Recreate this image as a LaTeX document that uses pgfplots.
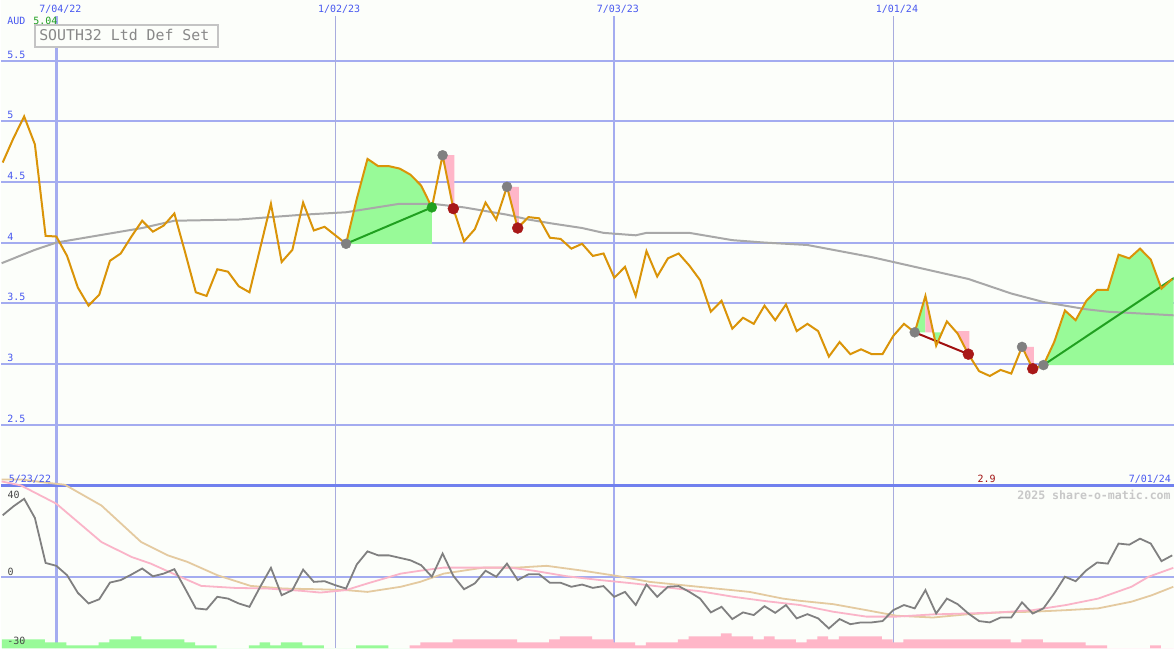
\documentclass[border=0pt]{standalone}
\usepackage{fontspec}
\setmainfont{DejaVu Sans}
\newfontfamily\pixfont{DejaVu Sans Mono}
\usepackage{pgfplots}
\pgfplotsset{compat=1.18}

% palette
\definecolor{bgc}{RGB}{252,254,250}
\definecolor{gridc}{RGB}{164,172,240}
\definecolor{gridthin}{RGB}{168,172,222}
\definecolor{divc}{RGB}{112,128,238}
\definecolor{txtblue}{RGB}{72,88,240}
\definecolor{pricec}{RGB}{218,148,8}
\definecolor{magrey}{RGB}{168,168,168}
\definecolor{oscgrey}{RGB}{128,128,128}
\definecolor{sigpink}{RGB}{250,180,200}
\definecolor{sigtan}{RGB}{228,202,160}
\definecolor{fillgreen}{RGB}{152,250,152}
\definecolor{fillpink}{RGB}{255,182,200}
\definecolor{mkgrey}{RGB}{128,128,128}
\definecolor{mkred}{RGB}{168,24,24}
\definecolor{mkgreen}{RGB}{32,160,32}
\definecolor{trred}{RGB}{160,16,16}
\definecolor{boxc}{RGB}{196,196,196}
\definecolor{boxtxt}{RGB}{136,136,136}
\definecolor{labdark}{RGB}{72,72,72}
\definecolor{wmark}{RGB}{200,200,200}

\pgfplotsset{
  panel/.style={at={(0,0)}, anchor=south west, width=1175pt, height=650pt,
    scale only axis, hide axis, xmin=-0.1116, xmax=109.12, clip=true},
}

\begin{document}
\begin{tikzpicture}
% background and grid
\begin{scope}[x=1pt,y=1pt]
\fill[bgc] (0,0) rectangle (1175,650);
\foreach \yy in {589.2,528.4,467.6,406.8,346.0,285.2,224.4}
  \draw[gridc,line width=2pt] (0,\yy) -- (1175,\yy);
\draw[gridc,line width=2pt] (0,72) -- (1175,72);
\draw[gridc,line width=2.5pt] (55,0) -- (55,634);
\draw[gridc,line width=2.5pt] (614.3,0) -- (614.3,634);
\draw[gridthin,line width=1.2pt] (334.7,0) -- (334.7,634);
\draw[gridthin,line width=1.2pt] (894,0) -- (894,634);
\draw[divc,line width=3pt] (0,163.3) -- (1175,163.3);
\end{scope}

% weekly histogram (levels of 3 units)
\begin{axis}[panel, ymin=0, ymax=216.667]
\addplot[const plot, fill=fillgreen, draw=none, xshift=-0.7pt] coordinates {
 (0,3)(1,3)(2,3)(3,3)(4,2)(5,2)(6,1)(7,1)(8,1)(9,2)(10,3)(11,3)(12,4)(13,3)
 (14,3)(15,3)(16,3)(17,2)(18,1)(19,1)(20,0)(21,0)(22,0)(23,1)(24,2)(25,1)
 (26,2)(27,2)(28,1)(29,1)(30,0)(31,0)(32,0)(33,1)(34,1)(35,1)(36,0)(37,0)(38,0)
} \closedcycle;
\addplot[const plot, fill=fillpink, draw=none, xshift=-0.7pt] coordinates {
 (38,1)(39,2)(40,2)(41,2)(42,3)(43,3)(44,3)(45,3)(46,3)(47,3)(48,2)(49,2)(50,2)
 (51,3)(52,4)(53,4)(54,4)(55,3)(56,3)(57,2)(58,2)(59,1)(60,2)(61,2)(62,2)(63,3)
 (64,4)(65,4)(66,4)(67,5)(68,4)(69,4)(70,3)(71,4)(72,3)(73,3)(74,2)(75,3)(76,4)
 (77,3)(78,4)(79,4)(80,4)(81,4)(82,3)(83,2)(84,3)(85,3)(86,3)(87,3)(88,3)(89,3)
 (90,3)(91,3)(92,3)(93,3)(94,2)(95,3)(96,3)(97,2)(98,2)(99,2)(100,2)(101,1)
 (102,1)(103,0)(104,0)(105,0)(106,0)(107,1)(108,0)(109,0)(110,0)
} \closedcycle;
\end{axis}

% oscillator panel
\begin{axis}[panel, ymin=-32.244, ymax=258.84]
\addplot[sigtan, line width=1.8pt] coordinates {
 (-0.1,43.6)(1.7,43.6)(3.6,42.4)(5.8,41.2)(9.2,31.9)(12.9,15.5)(15.4,9.5)(17.2,6.6)
 (20,0.6)(23.1,-4.2)(26.2,-5.4)(29.3,-5.7)(32,-6.1)(34,-6.9)(37.1,-4.6)(38.9,-2.4)
 (41.1,1.3)(44.8,4.0)(47.9,4.0)(50.7,4.8)(54.1,2.6)(57.2,0.3)(60.3,-2.4)(63.4,-3.9)
 (66.5,-5.4)(69.6,-6.9)(72.7,-9.9)(74.3,-10.9)(77.4,-12.4)(80.5,-15.1)(83.3,-17.6)
 (86.7,-18.4)(89.8,-17.0)(92.9,-16.1)(96,-15.8)(99.1,-15.1)(102.1,-14.3)(105.2,-11.3)
 (107.1,-8.4)(109.1,-4.6)
};
\addplot[sigpink, line width=1.8pt] coordinates {
 (-0.1,42.7)(1.7,40.9)(5,32.7)(9.2,15.5)(12,8.8)(13.8,5.8)(16.2,0.6)(18.5,-4.2)
 (21.6,-5.1)(24.7,-5.4)(27.8,-6.4)(29.6,-7.2)(32,-6.1)(34,-3.1)(37.1,1.3)(38.9,2.6)
 (41.1,4.0)(47.3,4.0)(49.5,2.6)(52.6,0.1)(55.7,-1.6)(58.8,-3.1)(61.9,-4.9)(65,-6.6)
 (68.1,-9.1)(71.2,-11.1)(74.3,-12.8)(77.4,-15.8)(80.5,-18.0)(83.3,-18.0)(86.7,-17.0)
 (89.8,-16.6)(92.9,-16.1)(96,-15.1)(99.1,-12.8)(102.1,-9.9)(105.2,-4.6)(106.8,-0.1)
 (109.1,3.9)
};
\addplot[oscgrey, line width=1.8pt] coordinates {
 (0,27.5)(1,31.5)(2,34.9)(3,26.3)(4,6.1)(5,4.8)(6,0.6)(7,-7.3)(8,-12.1)(9,-10.2)
 (10,-2.7)(11,-1.6)(12,0.9)(13,3.6)(14,0.1)(15,1.3)(16,3.3)(17,-5.4)(18,-14.3)
 (19,-14.8)(20,-9.1)(21,-9.9)(22,-12.1)(23,-13.6)(24,-4.6)(25,3.9)(26,-8.4)(27,-6.1)
 (28,3.1)(29,-2.4)(30,-2.1)(31,-3.9)(32,-5.4)(33,5.4)(34,11.3)(35,9.5)(36,9.5)
 (37,8.4)(38,7.3)(39,5.1)(40,-0.1)(41,10.3)(42,0.3)(43,-5.7)(44,-3.1)(45,2.6)
 (46,-0.1)(47,5.8)(48,-1.6)(49,1.0)(50,1.0)(51,-2.8)(52,-2.8)(53,-4.6)(54,-3.6)
 (55,-5.1)(56,-4.3)(57,-9.1)(58,-6.9)(59,-12.8)(60,-3.6)(61,-9.1)(62,-4.6)(63,-4.3)
 (64,-6.9)(65,-9.9)(66,-16.1)(67,-13.6)(68,-19.1)(69,-16.1)(70,-17.3)(71,-13.3)
 (72,-16.3)(73,-12.8)(74,-18.8)(75,-16.9)(76,-18.8)(77,-23.3)(78,-19.1)(79,-21.4)
 (80,-20.6)(81,-20.6)(82,-20.0)(83,-15.1)(84,-12.8)(85,-14.3)(86,-6.1)(87,-16.6)
 (88,-9.9)(89,-12.4)(90,-16.6)(91,-20.0)(92,-20.6)(93,-18.4)(94,-18.4)(95,-11.6)
 (96,-16.6)(97,-14.3)(98,-7.6)(99,-0.1)(100,-2.1)(101,2.8)(102,6.3)(103,5.8)
 (104,14.8)(105,14.3)(106,17.0)(107,14.8)(108,6.9)(109,9.5)
};
\end{axis}

% price panel
\begin{axis}[panel, ymin=0.6546, ymax=6]
% shaded trade spans
\addplot[fill=fillgreen, draw=none] coordinates {
 (32,3.99)(33,4.36)(34,4.69)(35,4.63)(36,4.63)(37,4.61)(38,4.56)(39,4.47)(40,4.29)(40,3.99)};
\addplot[fill=fillpink, draw=none] coordinates {(41,4.72)(42.1,4.72)(42.1,4.28)(42,4.28)};
\addplot[fill=fillpink, draw=none] coordinates {(47,4.46)(48.1,4.46)(48.1,4.12)(48,4.12)};
\addplot[fill=fillgreen, draw=none] coordinates {(85,3.26)(86,3.56)(86,3.26)};
\addplot[fill=fillpink, draw=none] coordinates {(86,3.56)(86.73,3.26)(86,3.26)};
\addplot[fill=fillgreen, draw=none] coordinates {(86.73,3.26)(87,3.15)(87.55,3.26)};
\addplot[fill=fillpink, draw=none] coordinates {(88.9,3.27)(90.1,3.27)(90.1,3.08)(90,3.08)(89,3.25)};
\addplot[fill=fillpink, draw=none] coordinates {(95,3.14)(96.1,3.14)(96.1,2.97)(96,2.96)};
\addplot[fill=fillgreen, draw=none] coordinates {
 (97,2.99)(98,3.18)(99,3.44)(100,3.36)(101,3.52)(102,3.61)(103,3.61)(104,3.90)
 (105,3.87)(106,3.95)(107,3.86)(108,3.62)(109,3.70)(109.2,3.71)(109.2,2.99)};
% moving average
\addplot[magrey, line width=2pt] coordinates {
 (-0.1,3.83)(3,3.94)(5,4.00)(9,4.06)(13,4.12)(16,4.18)(22,4.19)(28,4.23)(32,4.25)
 (37,4.32)(40,4.32)(43,4.29)(47,4.23)(49,4.19)(51,4.16)(54,4.12)(56,4.08)(59,4.06)
 (60,4.08)(64,4.08)(68,4.02)(71,4.00)(75,3.98)(78,3.93)(81,3.88)(83,3.84)(86,3.78)
 (90,3.70)(94,3.58)(97,3.51)(101,3.45)(103,3.43)(109.2,3.40)
};
% trade legs
\addplot[mkgreen, line width=2pt] coordinates {(32,3.99)(40,4.29)};
\addplot[trred, line width=2pt] coordinates {(85,3.26)(90,3.08)};
\addplot[mkgreen, line width=2pt] coordinates {(97,2.99)(109.2,3.71)};
% entry / exit marks
\addplot[only marks, mark=*, mark size=5pt, mkgrey] coordinates {
 (32,3.99)(41,4.72)(47,4.46)(85,3.26)(95,3.14)(97,2.99)};
\addplot[only marks, mark=*, mark size=5.5pt, mkred] coordinates {
 (42,4.28)(48,4.12)(90,3.08)(96,2.96)};
\addplot[only marks, mark=*, mark size=5pt, mkgreen] coordinates {(40,4.29)};
% weekly close
\addplot[pricec, line width=2pt] coordinates {
 (0,4.66)(1,4.86)(2,5.04)(3,4.81)(4,4.055)(5,4.05)(6,3.89)(7,3.63)(8,3.48)(9,3.57)
 (10,3.85)(11,3.91)(12,4.05)(13,4.18)(14,4.09)(15,4.14)(16,4.24)(17,3.92)(18,3.59)
 (19,3.56)(20,3.78)(21,3.76)(22,3.64)(23,3.59)(24,3.955)(25,4.32)(26,3.84)(27,3.94)
 (28,4.33)(29,4.10)(30,4.13)(31,4.06)(32,3.99)(33,4.36)(34,4.69)(35,4.63)(36,4.63)
 (37,4.61)(38,4.56)(39,4.47)(40,4.29)(41,4.72)(42,4.28)(43,4.01)(44,4.11)(45,4.33)
 (46,4.19)(47,4.46)(48,4.12)(49,4.21)(50,4.20)(51,4.04)(52,4.03)(53,3.95)(54,3.99)
 (55,3.89)(56,3.91)(57,3.71)(58,3.80)(59,3.56)(60,3.93)(61,3.72)(62,3.87)(63,3.91)
 (64,3.81)(65,3.69)(66,3.43)(67,3.52)(68,3.29)(69,3.38)(70,3.33)(71,3.48)(72,3.36)
 (73,3.49)(74,3.27)(75,3.33)(76,3.27)(77,3.06)(78,3.18)(79,3.08)(80,3.12)(81,3.08)
 (82,3.08)(83,3.23)(84,3.33)(85,3.26)(86,3.56)(87,3.15)(88,3.35)(89,3.25)(90,3.08)
 (91,2.94)(92,2.90)(93,2.95)(94,2.92)(95,3.14)(96,2.96)(97,2.99)(98,3.18)(99,3.44)
 (100,3.36)(101,3.52)(102,3.61)(103,3.61)(104,3.90)(105,3.87)(106,3.95)(107,3.86)
 (108,3.62)(109,3.70)
};
\end{axis}

% labels
\begin{scope}[x=1pt,y=1pt,every node/.style={inner sep=0pt,anchor=base west}]
\tikzset{lab/.style={font={\pixfont\fontsize{10}{12}\selectfont}}}
\node[lab,txtblue] at (37.7,637.3) {7/04/22};
\node[lab,txtblue] at (317.3,637.3) {1/02/23};
\node[lab,txtblue] at (596.7,637.3) {7/03/23};
\node[lab,txtblue] at (876.5,637.3) {1/01/24};
\node[lab,txtblue] at (5.7,625) {AUD};
\node[lab,mkgreen] at (31.7,625) {5.04};
\filldraw[fill=bgc,draw=boxc,line width=2pt] (33.3,624.7) rectangle (217.3,602.7);
\node[font={\pixfont\fontsize{14.9}{16}\selectfont},boxtxt] at (37.7,609) {SOUTH32 Ltd Def Set};
\node[lab,txtblue] at (5.7,591.7) {5.5};
\node[lab,txtblue] at (5.7,530.9) {5};
\node[lab,txtblue] at (5.7,470.1) {4.5};
\node[lab,txtblue] at (5.7,409.3) {4};
\node[lab,txtblue] at (5.7,348.5) {3.5};
\node[lab,txtblue] at (5.7,287.7) {3};
\node[lab,txtblue] at (5.7,226.9) {2.5};
\node[lab,txtblue] at (7.3,166.7) {5/23/22};
\node[lab,labdark] at (6,150.5) {40};
\node[lab,labdark] at (6,73.3) {0};
\node[lab,labdark] at (5.7,4) {-30};
\node[lab,trred] at (978.3,166.7) {2.9};
\node[lab,txtblue] at (1130,166.7) {7/01/24};
\node[font={\pixfont\bfseries\fontsize{11.6}{13}\selectfont},wmark] at (1018.3,149.3) {2025 share-o-matic.com};
\end{scope}
\end{tikzpicture}
\end{document}
